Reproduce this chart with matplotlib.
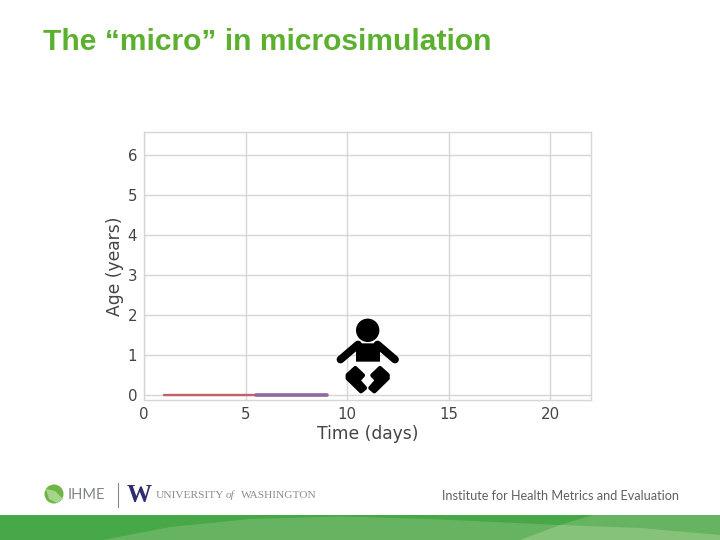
import matplotlib
matplotlib.use('Agg')
import matplotlib.pyplot as plt
from matplotlib.patches import Circle, Polygon, Rectangle

# age trajectories of the simulated people
time_red = [1, 9]
age_red = [0, 0]
time_purple = [5.5, 9]
age_purple = [0, 0]

x_ticks = [0, 5, 10, 15, 20]
y_ticks = [0, 1, 2, 3, 4, 5, 6]

TITLE = "The \u201cmicro\u201d in microsimulation"
W, H = 720, 540


def zoomed(points):
    return [(330 + x / 3, 315 + y / 3) for x, y in points]


fig = plt.figure(figsize=(7.2, 5.4), dpi=100)

ax = fig.add_axes([144 / W, 1 - 400 / H, (591 - 144) / W, (400 - 132) / H])
ax.plot(time_red, age_red, color='#c2606c', lw=1.7, solid_capstyle='round', zorder=3)
ax.plot(time_purple, age_purple, color='#8f6a9c', lw=2.6, solid_capstyle='round', zorder=4)
ax.set_xlim(0, 22)
ax.set_ylim(-0.125, 6.57)
ax.set_xticks(x_ticks)
ax.set_yticks(y_ticks)
ax.grid(True, color='#d6d6da', lw=1.0)
ax.set_axisbelow(True)
for s in ax.spines.values():
    s.set_color('#d6d6da')
    s.set_linewidth(1.0)
ax.tick_params(length=0, labelsize=10.8, labelcolor='#444444', pad=5)
ax.set_xlabel("Time (days)", fontsize=12.3, color='#444444', labelpad=2)
ax.set_ylabel("Age (years)", fontsize=12.3, color='#444444', labelpad=2.5)

# overlay in pixel coordinates for the slide furniture and the baby icon
ov = fig.add_axes([0, 0, 1, 1], facecolor='none')
ov.set_xlim(0, W)
ov.set_ylim(H, 0)
ov.axis('off')

ov.text(43, 42, TITLE, family='Liberation Sans', weight='bold', fontsize=21.6,
        color='#5cb02f', va='center', ha='left')

# baby
ov.add_patch(Circle((367.7, 330.3), 11.7, color='black', lw=0))
body = [(82, 85), (144, 85), (150, 92), (150, 140), (78, 140), (78, 92)]
ov.add_patch(Polygon(zoomed(body), closed=True, color='black', lw=0))
ov.plot([358, 340.5], [344.5, 359.5], color='black', lw=5.6, solid_capstyle='round')
ov.plot([377.5, 395], [344.5, 359.5], color='black', lw=5.6, solid_capstyle='round')
left_leg = [(76, 159), (99, 181), (85, 196), (105, 219), (93, 229), (53, 190), (53, 180)]
right_leg = [(226 - x, y) for x, y in left_leg]
ov.add_patch(Polygon(zoomed(left_leg), closed=True, facecolor='black', edgecolor='black',
                     lw=3, joinstyle='round'))
ov.add_patch(Polygon(zoomed(right_leg), closed=True, facecolor='black', edgecolor='black',
                     lw=3, joinstyle='round'))

# footer band
ov.add_patch(Rectangle((0, 515), W, 25, color='#46a846', lw=0))
ov.add_patch(Polygon([(103, 540), (170, 527), (250, 519), (340, 516.5), (430, 519), (560, 525),
                      (593, 515), (720, 515), (720, 540)], closed=True, color='#66b461', lw=0))
ov.add_patch(Polygon([(520, 540), (560, 525), (640, 528), (720, 535), (720, 540)],
                     closed=True, color='#87c27a', lw=0))

# logos
ov.add_patch(Circle((54, 494), 9.5, color='#6fb544', lw=0))
ov.add_patch(Polygon([(46, 489), (55, 491), (63, 499), (57, 503), (49, 499)], closed=True,
                     color='#a5d58c', lw=0))
ov.text(68, 495, "IHME", family='Lato', fontsize=10.5, color='#808488', va='center', ha='left')
ov.plot([117.5, 117.5], [483, 507], color='#8a8a8a', lw=0.8)
ov.text(139, 495, "W", family='Liberation Serif', weight='bold', fontsize=18, color='#302c70',
        va='center', ha='center')
ov.text(156, 495, "UNIVERSITY", family='Liberation Serif', fontsize=8.2, color='#8b8b8f',
        va='center', ha='left')
ov.text(226, 495.5, "of", family='Liberation Serif', style='italic', fontsize=8, color='#8b8b8f',
        va='center', ha='left')
ov.text(241, 495, "WASHINGTON", family='Liberation Serif', fontsize=8.2, color='#8b8b8f',
        va='center', ha='left')
ov.text(442, 496, "Institute for Health Metrics and Evaluation", family='Lato', fontsize=9.1,
        color='#5f6063', va='center', ha='left')

fig.savefig('out.png', dpi=100)
